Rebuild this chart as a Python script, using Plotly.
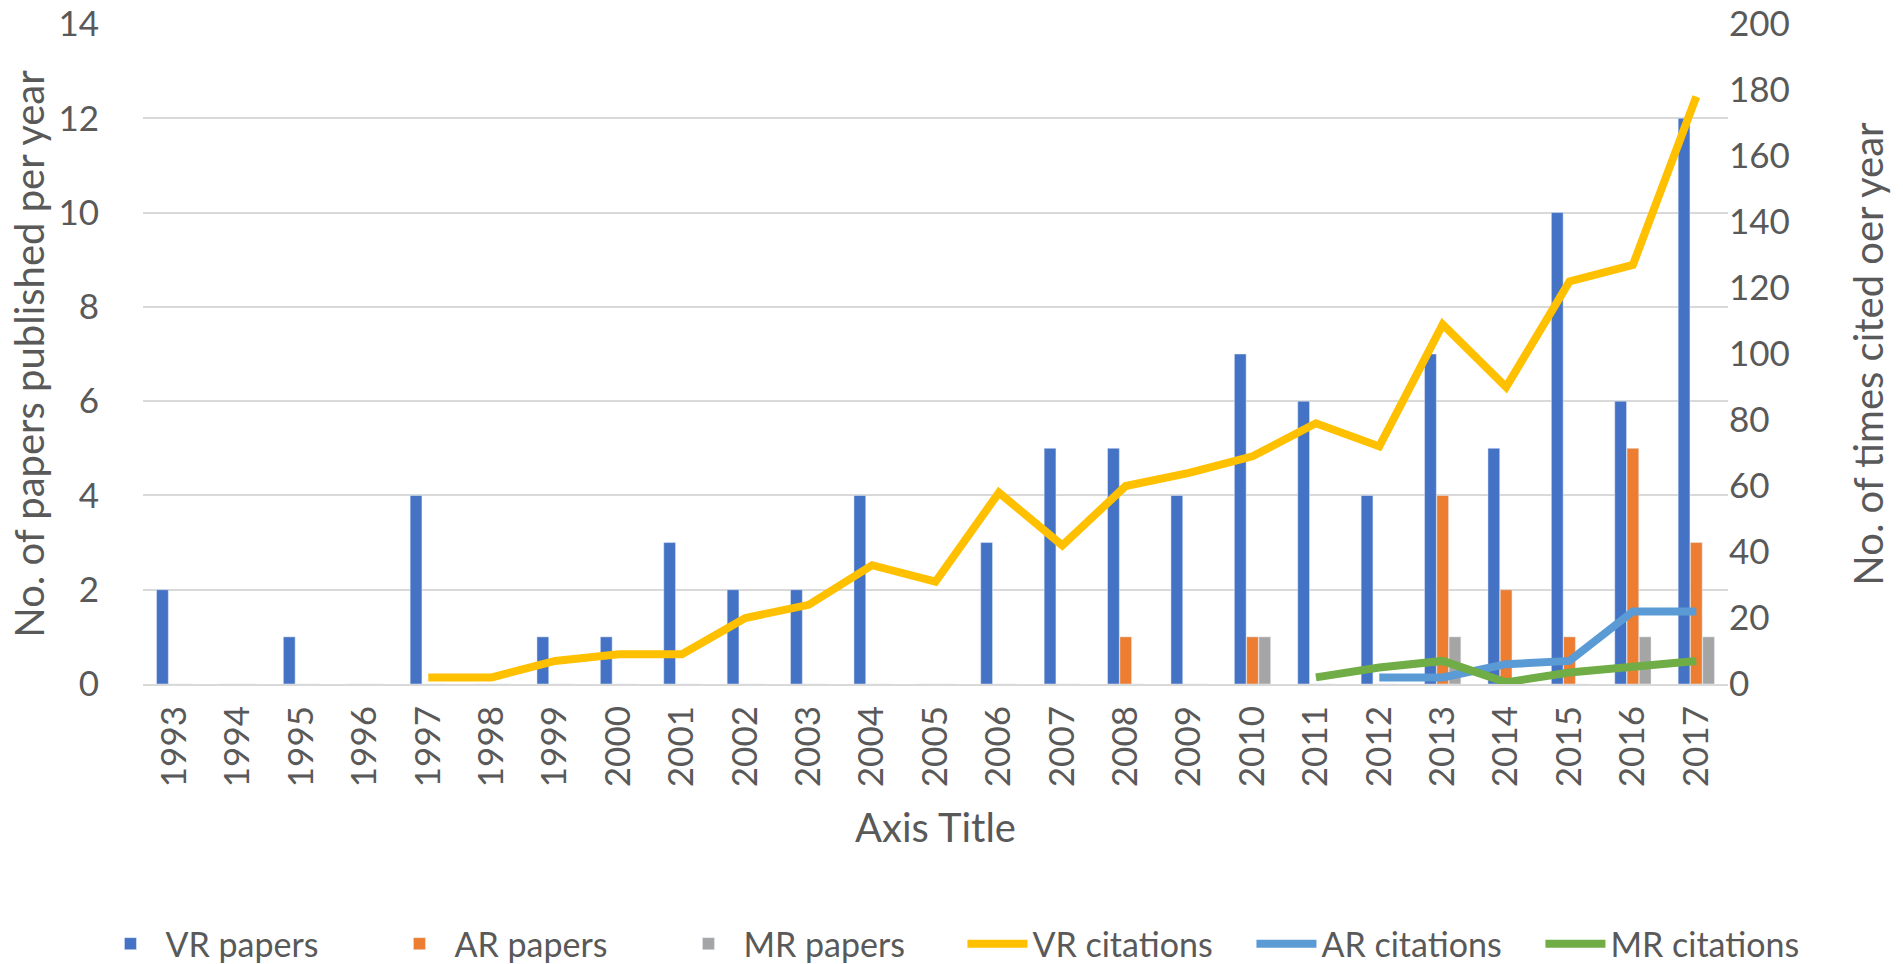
import plotly.graph_objects as go

years = [str(y) for y in range(1993, 2018)]

vr_papers = [2, 0, 1, 0, 4, 0, 1, 1, 3, 2, 2, 4, 0, 3, 5, 5, 4, 7, 6, 4, 7, 5, 10, 6, 12]
ar_papers = [0, 0, 0, 0, 0, 0, 0, 0, 0, 0, 0, 0, 0, 0, 0, 1, 0, 1, 0, 0, 4, 2, 1, 5, 3]
mr_papers = [0, 0, 0, 0, 0, 0, 0, 0, 0, 0, 0, 0, 0, 0, 0, 0, 0, 1, 0, 0, 1, 0, 0, 1, 1]

vr_citations = [None, None, None, None, 2, 2, 7, 9, 9, 20, 24, 36, 31, 58, 42, 60, 64, 69, 79, 72, 109, 90, 122, 127, 178]
ar_citations = [None] * 19 + [2, 2, 6, 7, 22, 22]
mr_citations = [None] * 18 + [2, 5, 7, 0.5, 3.5, 5, 7]

FONT = "Lato"
TXT = "#595959"
TICK = 35
TITLE = 40

fig = go.Figure()
fig.add_trace(go.Bar(x=years, y=vr_papers, name="VR papers", marker_color="#4472C4", yaxis="y"))
fig.add_trace(go.Bar(x=years, y=ar_papers, name="AR papers", marker_color="#ED7D31", yaxis="y"))
fig.add_trace(go.Bar(x=years, y=mr_papers, name="MR papers", marker_color="#A5A5A5", yaxis="y"))
fig.add_trace(go.Scatter(x=years, y=vr_citations, name="VR citations", mode="lines",
                         line=dict(color="#FFC000", width=8), yaxis="y2"))
fig.add_trace(go.Scatter(x=years, y=ar_citations, name="AR citations", mode="lines",
                         line=dict(color="#5B9BD5", width=8), yaxis="y2"))
fig.add_trace(go.Scatter(x=years, y=mr_citations, name="MR citations", mode="lines",
                         line=dict(color="#70AD47", width=8), yaxis="y2"))

fig.update_layout(
    width=1903, height=964,
    paper_bgcolor="white", plot_bgcolor="white",
    margin=dict(l=143, r=175, t=24, b=280, autoexpand=False),
    barmode="group", bargap=0.42, bargroupgap=0.04,
    font=dict(family=FONT, color=TXT, size=TICK),
    showlegend=True,
    legend=dict(orientation="h", x=1.064, xanchor="right", y=-0.394, yanchor="middle",
                font=dict(size=34, color=TXT), itemwidth=60, traceorder="normal",
                entrywidth=214, entrywidthmode="pixels"),
    xaxis=dict(
        type="category", tickangle=-90, tickfont=dict(size=TICK, color=TXT),
        showgrid=False, showline=True, linecolor="#D9D9D9", linewidth=2,
        ticks="outside", ticklen=6, tickcolor="rgba(0,0,0,0)", automargin=False,
        title=dict(text="Axis Title", font=dict(size=TITLE, color=TXT), standoff=28),
    ),
    yaxis=dict(
        range=[0, 14], dtick=2, showgrid=True, gridcolor="#D9D9D9", gridwidth=2,
        zeroline=False, tickfont=dict(size=TICK, color=TXT), automargin=False,
        ticks="outside", ticklen=36, tickcolor="rgba(0,0,0,0)",
        title=dict(text="No. of papers published per year", font=dict(size=TITLE, color=TXT), standoff=1),
    ),
    yaxis2=dict(
        range=[0, 200], dtick=20, overlaying="y", side="right", showgrid=False,
        zeroline=False, tickfont=dict(size=TICK, color=TXT), automargin=False,
        ticks="",
        title=dict(text="No. of times cited oer year", font=dict(size=TITLE, color=TXT), standoff=66),
    ),
)

fig.write_html("out.html", config={"displayModeBar": False},
               post_script="document.body.style.margin='0px';")
